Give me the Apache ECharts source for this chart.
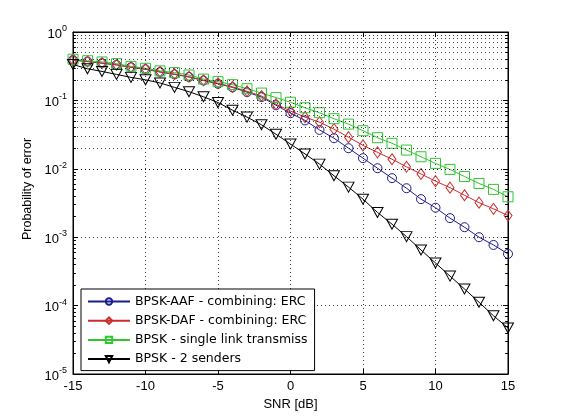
<!DOCTYPE html>
<html><head><meta charset="utf-8">
<script src="https://cdn.jsdelivr.net/npm/echarts@6/dist/echarts.min.js"></script>
<style>html,body{margin:0;padding:0;background:#fff}#c{width:561px;height:420px}</style>
</head><body><div id="c"></div>
<script>
const snr = [-15,-14,-13,-12,-11,-10,-9,-8,-7,-6,-5,-4,-3,-2,-1,0,1,2,3,4,5,6,7,8,9,10,11,12,13,14,15];
const aaf = [0.39,0.37,0.35,0.33,0.305,0.285,0.26,0.24,0.22,0.195,0.175,0.155,0.132,0.112,0.085,0.065,0.051,0.037,0.028,0.020,0.0143,0.0102,0.0073,0.0052,0.0036,0.0027,0.0019,0.0014,0.00100,0.00077,0.00057];
const daf = [0.39,0.37,0.352,0.332,0.307,0.287,0.262,0.243,0.222,0.197,0.178,0.158,0.136,0.116,0.088,0.070,0.057,0.048,0.038,0.029,0.022,0.0174,0.0138,0.0107,0.0084,0.0066,0.0053,0.0041,0.0032,0.0026,0.00207];
const single = [0.40,0.38,0.365,0.345,0.315,0.295,0.27,0.255,0.235,0.205,0.188,0.17,0.148,0.128,0.11,0.094,0.078,0.066,0.054,0.045,0.036,0.0285,0.0236,0.0188,0.015,0.012,0.0098,0.0077,0.0061,0.0050,0.0039];
const twoSenders = [0.335,0.29,0.265,0.24,0.217,0.20,0.18,0.155,0.134,0.113,0.093,0.072,0.057,0.044,0.032,0.023,0.0165,0.0117,0.0079,0.0054,0.0036,0.0023,0.00155,0.00102,0.00065,0.00042,0.00027,0.000175,0.000112,0.000071,0.000047];
const seriesNames = ['BPSK-AAF - combining: ERC','BPSK-DAF - combining: ERC','BPSK - single link transmiss','BPSK - 2 senders'];
const xTickInterval = 5;
const decadeExps = [-5,-4,-3,-2,-1];
const minorMult = [2,3,4,5,6,7,8,9];

const FONT = 'Liberation Sans, Arial, Helvetica, sans-serif';
const LFONT = 'DejaVu Sans, sans-serif';
const minorVals = [];
decadeExps.forEach(e => minorMult.forEach(m => minorVals.push(m * Math.pow(10, e))));

const gridLineStyle = {type:[1,3], color:'#000', width:1, opacity:0.75};
const markGrid = minorVals.map(v => ({yAxis: v}));
const markTicks = [];
minorVals.forEach(v => {
  markTicks.push([{coord:[snr[0], v], lineStyle:{type:'solid', color:'#000', opacity:1}}, {coord:[snr[0] + 0.2, v]}]);
  markTicks.push([{coord:[snr[snr.length-1], v], lineStyle:{type:'solid', color:'#000', opacity:1}}, {coord:[snr[snr.length-1] - 0.2, v]}]);
});

function pairs(arr){ return snr.map((x,i) => [x, arr[i]]); }

function mkSeries(name, data, color, symbol, size, extra){
  return Object.assign({
    name, type:'line', data: pairs(data), symbol, symbolSize: size,
    lineStyle:{color, width:1}, itemStyle:{color:'rgba(255,255,255,0)', borderColor:color, borderWidth:1},
    emphasis:{disabled:true}, animation:false, z:3
  }, extra || {});
}

const chart = echarts.init(document.getElementById('c'), null, {renderer:'canvas'});
const axisCommonX = {
  type:'value', min:-15, max:15, interval:xTickInterval,
  axisLine:{show:true, onZero:false, lineStyle:{color:'#000', width:1}},
  axisTick:{show:true, inside:true, length:5, lineStyle:{color:'#000'}},
};
const axisCommonY = {
  type:'log', logBase:10, min:1e-5, max:1,
  axisLine:{show:true, onZero:false, lineStyle:{color:'#000', width:1}},
  axisTick:{show:true, inside:true, length:5, lineStyle:{color:'#000'}},
};
chart.setOption({
  backgroundColor:'#fff',
  animation:false,
  grid:{left:73, right:53, top:32, bottom:46, show:true, borderColor:'#000', borderWidth:1, backgroundColor:'#fff'},
  xAxis:[
    Object.assign({}, axisCommonX, {
      position:'bottom',
      name:'SNR [dB]', nameLocation:'middle', nameGap:24,
      nameTextStyle:{fontFamily:FONT, fontSize:13, color:'#000'},
      axisLabel:{fontFamily:FONT, fontSize:13, color:'#000', margin:6},
      splitLine:{show:true, lineStyle:gridLineStyle}
    }),
    Object.assign({}, axisCommonX, {position:'top', axisLabel:{show:false}, splitLine:{show:false}})
  ],
  yAxis:[
    Object.assign({}, axisCommonY, {
      position:'left',
      name:'Probability of error', nameLocation:'middle', nameGap:36,
      nameTextStyle:{fontFamily:FONT, fontSize:12.5, color:'#000', padding:[0,0,0,28]},
      axisLabel:{margin:6, formatter: v => '{b|10}{e|' + Math.round(Math.log10(v)) + '}',
        rich:{ b:{fontFamily:FONT, fontSize:13, color:'#000', padding:[5,0,1,0]},
               e:{fontFamily:FONT, fontSize:9, color:'#000', padding:[0,0,7,0]} } },
      splitLine:{show:true, lineStyle:gridLineStyle}
    }),
    Object.assign({}, axisCommonY, {position:'right', axisLabel:{show:false}, splitLine:{show:false}})
  ],
  legend:{
    orient:'vertical', left:81, top:289, data:seriesNames,
    itemWidth:42, itemHeight:8, itemGap:6.2, itemTextGap:3, padding:[6,7,5,6],
    backgroundColor:'#fff', borderColor:'#000', borderWidth:1, borderRadius:0,
    textStyle:{fontFamily:LFONT, fontSize:12.5, color:'#000'},
    selectedMode:false
  },
  series:[
    {type:'line', name:'_grid', data:[[-15,0.5],[15,0.5]], symbol:'none', lineStyle:{opacity:0}, silent:true, z:1,
     markLine:{silent:true, symbol:'none', animation:false, label:{show:false}, lineStyle:gridLineStyle, data: markGrid.concat(markTicks)}},
    mkSeries(seriesNames[0], aaf, '#1c1c8e', 'circle', 9),
    mkSeries(seriesNames[1], daf, '#cc2b2b', 'diamond', [8,11]),
    mkSeries(seriesNames[2], single, '#2fc62f', 'rect', 10),
    mkSeries(seriesNames[3], twoSenders, '#000000', 'triangle', [11,10], {symbolRotate:180})
  ]
});
</script></body></html>
